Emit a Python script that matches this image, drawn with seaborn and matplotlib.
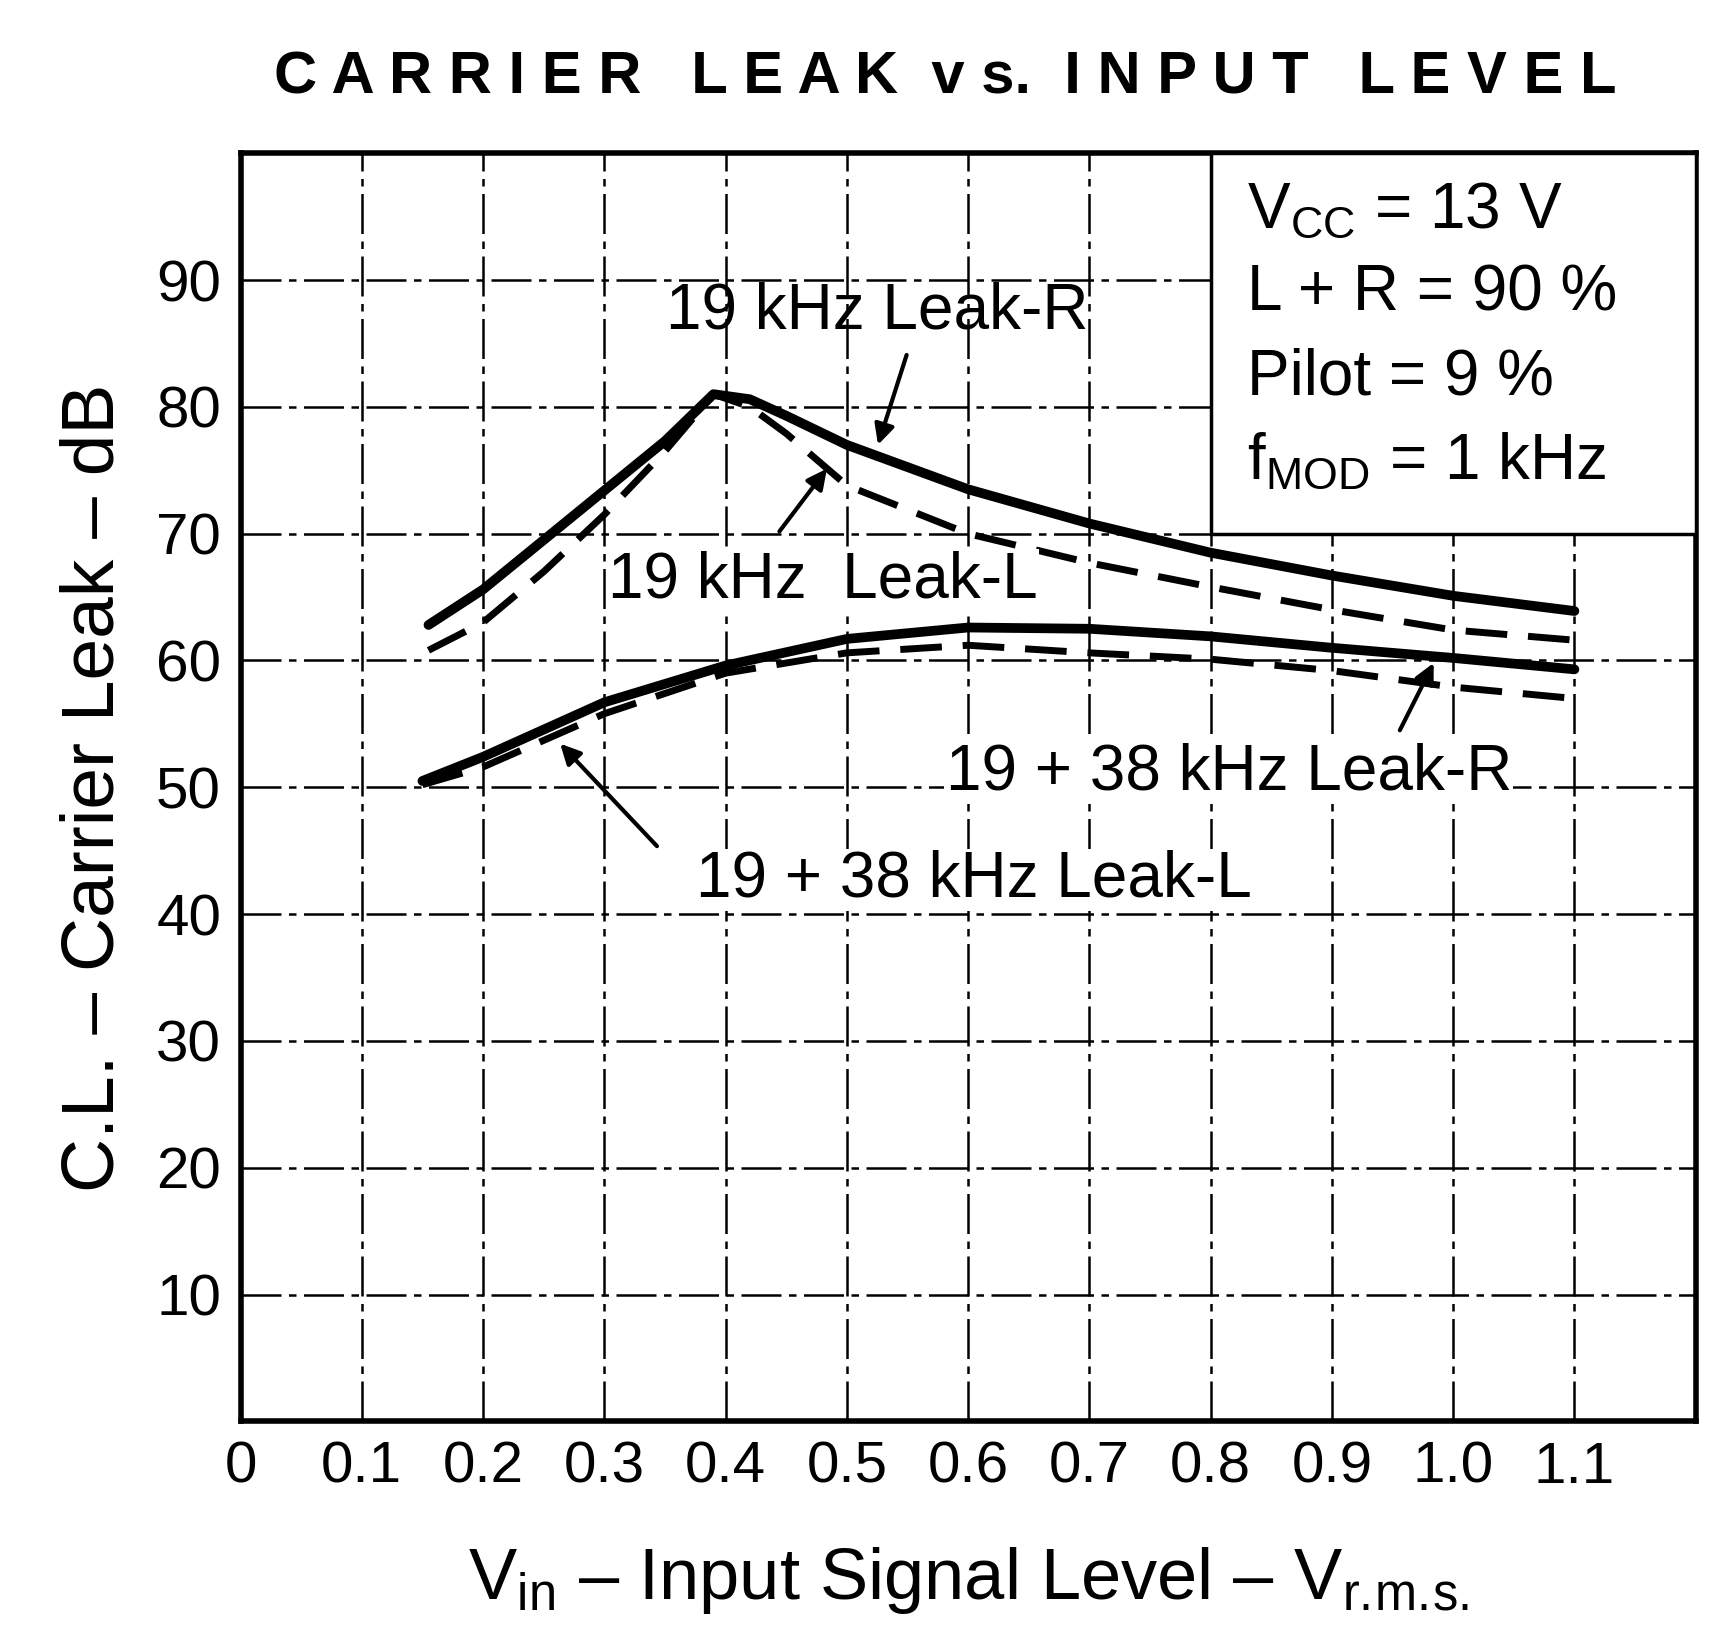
import numpy as np
import pandas as pd
import matplotlib
matplotlib.use("Agg")
import matplotlib.pyplot as plt
from matplotlib.patches import Rectangle
import seaborn as sns

# curves (Vin in Vrms, carrier leak in dB)
leak_r_19_x = [0.155, 0.20, 0.25, 0.30, 0.35, 0.39, 0.42, 0.45, 0.50, 0.60, 0.70, 0.80, 0.90, 1.00, 1.10]
leak_r_19_y = [62.8, 65.6, 69.5, 73.4, 77.3, 81.0, 80.6, 79.3, 77.0, 73.5, 70.8, 68.5, 66.7, 65.1, 63.9]

leak_l_19_x = [0.155, 0.20, 0.25, 0.30, 0.35, 0.39, 0.42, 0.45, 0.50, 0.60, 0.70, 0.80, 0.90, 1.00, 1.10]
leak_l_19_y = [60.8, 63.0, 67.0, 71.5, 76.5, 81.0, 80.0, 77.9, 73.8, 70.0, 67.7, 65.8, 64.0, 62.4, 61.6]

leak_r_1938_x = [0.15, 0.20, 0.30, 0.40, 0.50, 0.60, 0.70, 0.80, 0.90, 1.00, 1.10]
leak_r_1938_y = [50.5, 52.4, 56.7, 59.6, 61.7, 62.6, 62.5, 61.9, 61.0, 60.2, 59.3]

leak_l_1938_x = [0.15, 0.20, 0.30, 0.40, 0.50, 0.60, 0.70, 0.80, 0.90, 1.00, 1.10]
leak_l_1938_y = [50.2, 51.6, 55.8, 59.0, 60.6, 61.2, 60.6, 60.1, 59.2, 57.9, 57.0]

x_ticks = [0, 0.1, 0.2, 0.3, 0.4, 0.5, 0.6, 0.7, 0.8, 0.9, 1.0, 1.1]
x_tick_labels = ["0", "0.1", "0.2", "0.3", "0.4", "0.5", "0.6", "0.7", "0.8", "0.9", "1.0", "1.1"]
y_ticks = [10, 20, 30, 40, 50, 60, 70, 80, 90]

conditions = [r"V$_{\mathrm{CC}}$ = 13 V", "L + R = 90 %", "Pilot = 9 %", r"f$_{\mathrm{MOD}}$ = 1 kHz"]

sns.set_style("white")
plt.rcParams['font.family'] = ['Liberation Sans', 'DejaVu Sans']
plt.rcParams['mathtext.fontset'] = 'custom'
plt.rcParams['mathtext.rm'] = 'Liberation Sans'
plt.rcParams['text.color'] = 'black'
plt.rcParams['axes.labelcolor'] = 'black'
plt.rcParams['xtick.color'] = 'black'
plt.rcParams['ytick.color'] = 'black'

fig = plt.figure(figsize=(17.18, 16.30), dpi=100)
ax = fig.add_axes([0.14, 0.128, 0.847, 0.778])

def curve(xs, ys, ls, lw):
    df = pd.DataFrame({'x': xs, 'y': ys})
    sns.lineplot(data=df, x='x', y='y', ax=ax, color='black', linestyle=ls,
                 linewidth=lw, sort=False, zorder=4)

curve(leak_r_19_x, leak_r_19_y, '-', 7)
curve(leak_l_19_x, leak_l_19_y, (0, (6, 3)), 5)
curve(leak_r_1938_x, leak_r_1938_y, '-', 7)
curve(leak_l_1938_x, leak_l_1938_y, (0, (6, 3)), 5)

ax.set_xlim(0, 1.2)
ax.set_ylim(0, 100)
ax.set_xticks(x_ticks)
ax.set_xticklabels(x_tick_labels)
ax.set_yticks(y_ticks)
ax.tick_params(axis='both', length=0, labelsize=42, pad=14)
ax.grid(True, color='black', linewidth=1.8, linestyle=(0, (16, 3, 3, 3)))
for s in ax.spines.values():
    s.set_linewidth(4)
    s.set_color('black')

ax.set_xlabel(r"V$_{\mathrm{in}}$ – Input Signal Level – V$_{\mathrm{r.\!m.\!s.}}$", fontsize=52, labelpad=36)
ax.set_ylabel("C.L. – Carrier Leak – dB", fontsize=54, labelpad=20)
fig.text(0.55, 0.952, "C A R R I E R   L E A K  v s.  I N P U T   L E V E L",
         ha='center', va='center', fontsize=43, fontweight='bold')

# conditions box
ax.add_patch(Rectangle((0.8, 70), 0.4, 30, facecolor='white', edgecolor='black',
                       linewidth=2.5, zorder=3))
for i, t in enumerate(conditions):
    ax.text(0.83, 95.5 - i * 6.6, t, fontsize=46, va='center', ha='left', zorder=5)

# curve labels with pointer arrows
arrow = dict(arrowstyle='-|>', color='black', lw=3, mutation_scale=30)
ax.text(0.525, 87.5, "19 kHz Leak-R", fontsize=46, ha='center', va='center', zorder=5)
ax.annotate('', xy=(0.525, 76.8), xytext=(0.55, 84.3), arrowprops=arrow, zorder=5)
ax.text(0.48, 66.3, "19 kHz  Leak-L", fontsize=46, ha='center', va='center', zorder=5,
        bbox=dict(facecolor='white', edgecolor='none', pad=1))
ax.annotate('', xy=(0.485, 75.3), xytext=(0.443, 70.0), arrowprops=arrow, zorder=5)
ax.text(0.815, 51.2, "19 + 38 kHz Leak-R", fontsize=46, ha='center', va='center', zorder=5,
        bbox=dict(facecolor='white', edgecolor='none', pad=1))
ax.annotate('', xy=(0.985, 60.0), xytext=(0.955, 54.3), arrowprops=arrow, zorder=5)
ax.text(0.605, 42.7, "19 + 38 kHz Leak-L", fontsize=46, ha='center', va='center', zorder=5,
        bbox=dict(facecolor='white', edgecolor='none', pad=1))
ax.annotate('', xy=(0.262, 53.6), xytext=(0.345, 45.2), arrowprops=arrow, zorder=5)

fig.savefig("out.png", dpi=100)
